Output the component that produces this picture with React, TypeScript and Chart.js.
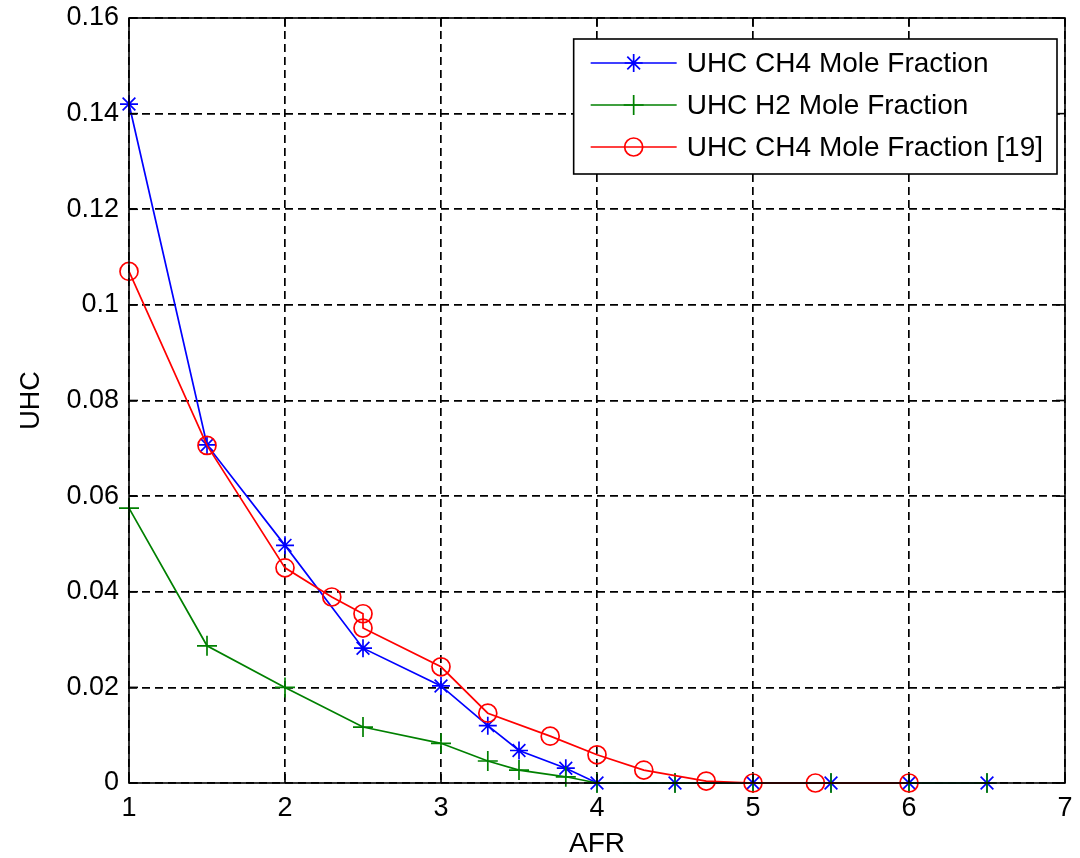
import { useEffect, useRef } from 'react';
import { Chart, registerables } from 'chart.js';
import { drawPoint } from 'chart.js/helpers';

Chart.register(...registerables);

// Air-fuel ratio sample points and unburned hydrocarbon mole fractions
const afrModel = [1, 1.5, 2, 2.5, 3, 3.3, 3.5, 3.8, 4, 4.5, 5, 5.5, 6, 6.5];
const uhcCh4 = [0.142, 0.0707, 0.0497, 0.0282, 0.0203, 0.012, 0.0068, 0.0031, 0, 0, 0, 0, 0, 0];
const uhcH2 = [0.0575, 0.0287, 0.02, 0.0117, 0.0083, 0.0046, 0.0027, 0.0013, 0, 0, 0, 0, 0, 0];

const afrRef = [1, 1.5, 2, 2.3, 2.5, 2.5, 3, 3.3, 3.7, 4, 4.3, 4.7, 5, 5.4, 6];
const uhcRef = [0.107, 0.0706, 0.045, 0.0389, 0.0354, 0.0324, 0.0243, 0.0146, 0.0098, 0.0059, 0.0027, 0.0004, 0, 0, 0];

const seriesLabels = ['UHC CH4 Mole Fraction', 'UHC H2 Mole Fraction', 'UHC CH4 Mole Fraction [19]'];
const xTitle = 'AFR';
const yTitle = 'UHC';

const FONT = '"Liberation Sans", Arial, sans-serif';

const toPoints = (xs: number[], ys: number[]) => xs.map((x, i) => ({ x, y: ys[i] }));

// Closed axes box, inward tick marks and a boxed legend drawn on top of the plot
const framePlugin = {
  id: 'frameAndLegend',
  afterDraw(chart: any) {
    const { ctx, chartArea: a, scales } = chart;
    const sx = scales.x;
    const sy = scales.y;
    ctx.save();
    ctx.setLineDash([]);
    ctx.strokeStyle = '#000';
    ctx.lineWidth = 1.6;
    const tl = 9;
    const seg = (x1: number, y1: number, x2: number, y2: number) => {
      ctx.beginPath();
      ctx.moveTo(x1, y1);
      ctx.lineTo(x2, y2);
      ctx.stroke();
    };
    sx.ticks.forEach((t: any) => {
      const px = sx.getPixelForValue(t.value);
      seg(px, a.bottom, px, a.bottom - tl);
      seg(px, a.top, px, a.top + tl);
    });
    sy.ticks.forEach((t: any) => {
      const py = sy.getPixelForValue(t.value);
      seg(a.left, py, a.left + tl, py);
      seg(a.right, py, a.right - tl, py);
    });
    ctx.strokeRect(a.left, a.top, a.right - a.left, a.bottom - a.top);

    // legend
    ctx.font = `28px ${FONT}`;
    const padL = 17;
    const lineLen = 86;
    const gap = 10;
    const padR = 14;
    const textW = Math.max(...seriesLabels.map((s) => ctx.measureText(s).width));
    const boxW = padL + lineLen + gap + textW + padR;
    const boxH = 135;
    const bx = a.right - 8 - boxW;
    const by = a.top + 21;
    ctx.fillStyle = '#fff';
    ctx.fillRect(bx, by, boxW, boxH);
    ctx.strokeStyle = '#000';
    ctx.lineWidth = 1.6;
    ctx.strokeRect(bx, by, boxW, boxH);
    chart.data.datasets.forEach((ds: any, i: number) => {
      const cy = by + 24 + i * 42;
      const x0 = bx + padL;
      ctx.strokeStyle = ds.borderColor;
      ctx.lineWidth = ds.borderWidth;
      seg(x0, cy, x0 + lineLen, cy);
      ctx.fillStyle = 'rgba(0,0,0,0)';
      ctx.lineWidth = ds.pointBorderWidth;
      drawPoint(ctx, { pointStyle: ds.pointStyle, radius: ds.pointRadius, rotation: 0, borderWidth: ds.pointBorderWidth }, x0 + lineLen / 2, cy);
      ctx.fillStyle = '#000';
      ctx.textAlign = 'left';
      ctx.textBaseline = 'middle';
      ctx.fillText(ds.label, x0 + lineLen + gap, cy + 1);
    });
    ctx.restore();
  },
};

export default function App() {
  const ref = useRef<HTMLCanvasElement | null>(null);

  useEffect(() => {
    if (!ref.current) return;
    const common = {
      backgroundColor: 'rgba(0,0,0,0)',
      borderWidth: 1.7,
      pointBorderWidth: 1.7,
      pointBackgroundColor: 'rgba(0,0,0,0)',
      tension: 0,
      clip: false as const,
    };
    const chart = new Chart(ref.current, {
      type: 'line',
      data: {
        datasets: [
          {
            ...common,
            label: seriesLabels[0],
            data: toPoints(afrModel, uhcCh4),
            borderColor: '#0000ff',
            pointStyle: 'star',
            pointRadius: 9,
            pointBorderColor: '#0000ff',
            order: 2,
          },
          {
            ...common,
            label: seriesLabels[1],
            data: toPoints(afrModel, uhcH2),
            borderColor: '#008000',
            pointStyle: 'cross',
            pointRadius: 10,
            pointBorderColor: '#008000',
            order: 1,
          },
          {
            ...common,
            label: seriesLabels[2],
            data: toPoints(afrRef, uhcRef),
            borderColor: '#ff0000',
            pointStyle: 'circle',
            pointRadius: 9,
            pointBorderColor: '#ff0000',
            order: 0,
          },
        ],
      },
      options: {
        animation: false,
        responsive: false,
        events: [],
        layout: { padding: { left: 0, right: 15, top: 18, bottom: 0 } },
        plugins: {
          legend: { display: false },
          tooltip: { enabled: false },
        },
        scales: {
          x: {
            type: 'linear',
            min: 1,
            max: 7,
            ticks: {
              stepSize: 1,
              padding: 9,
              color: '#000',
              font: { family: FONT, size: 27 },
            },
            grid: { color: '#000', lineWidth: 1.7, drawTicks: false },
            border: { display: false, dash: [8, 5] },
            title: {
              display: true,
              text: xTitle,
              color: '#000',
              font: { family: FONT, size: 28 },
              padding: { top: 0, bottom: -3 },
            },
            afterFit: (s: any) => {
              s.height = 75;
              s.paddingLeft = 0;
              s.paddingRight = 0;
            },
          },
          y: {
            type: 'linear',
            min: 0,
            max: 0.16,
            ticks: {
              stepSize: 0.02,
              padding: 10,
              color: '#000',
              font: { family: FONT, size: 27 },
              callback: (v: any) => String(+Number(v).toFixed(2)),
            },
            grid: { color: '#000', lineWidth: 1.7, drawTicks: false },
            border: { display: false, dash: [8, 5] },
            title: {
              display: true,
              text: yTitle,
              color: '#000',
              font: { family: FONT, size: 27 },
              padding: { top: 15, bottom: 0 },
            },
            afterFit: (s: any) => {
              s.width = 129;
              s.paddingTop = 0;
              s.paddingBottom = 0;
            },
          },
        },
      },
      plugins: [framePlugin],
    });
    return () => chart.destroy();
  }, []);

  return (
    <div style={{ position: 'fixed', left: 0, top: 0, width: 1080, height: 858, background: '#fff' }}>
      <canvas ref={ref} width={1080} height={858} style={{ display: 'block' }} />
    </div>
  );
}
